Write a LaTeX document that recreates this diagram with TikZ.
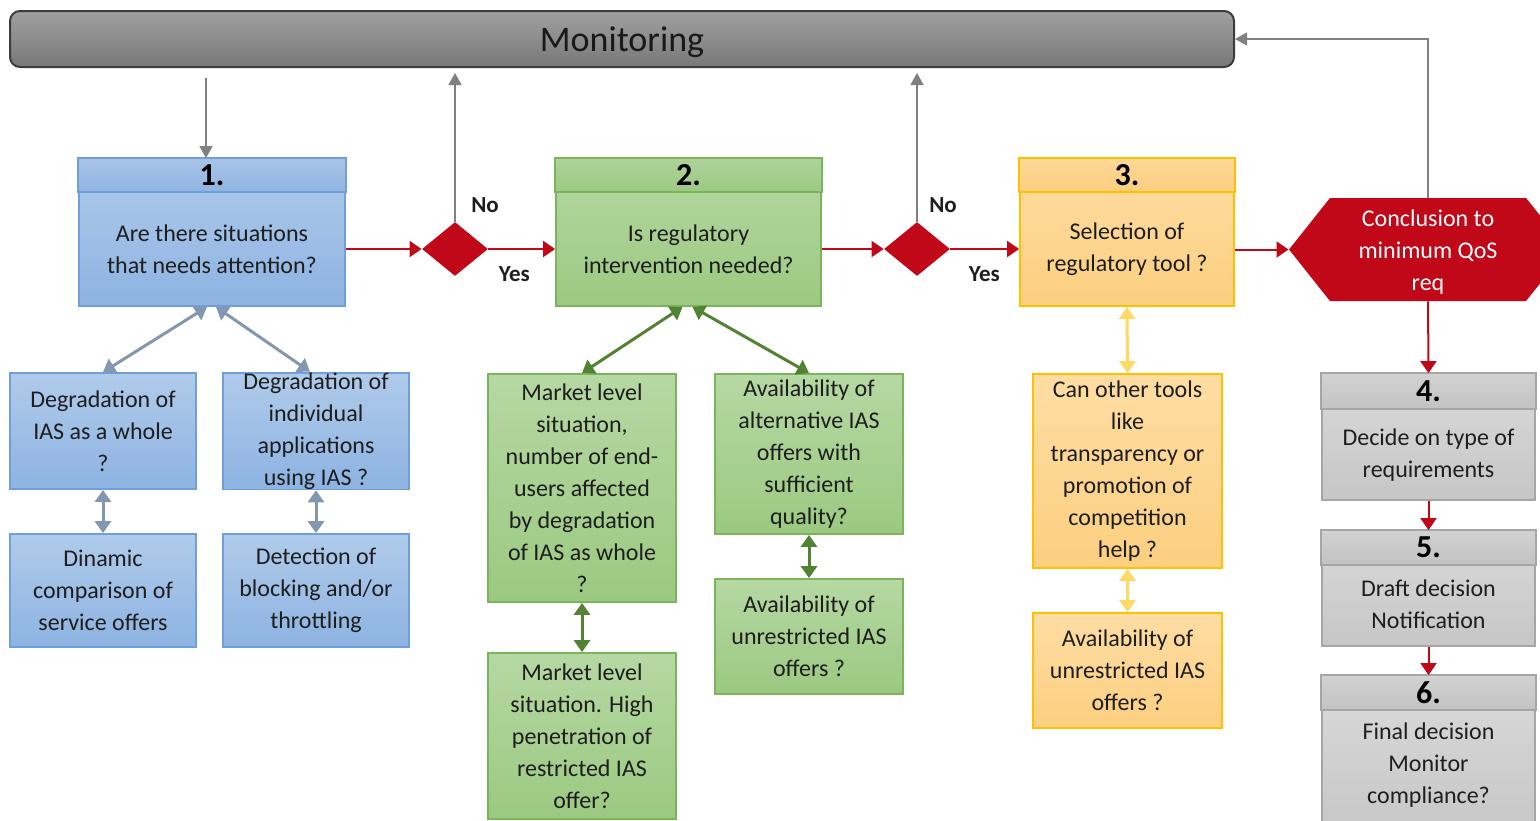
\documentclass[tikz,border=0pt]{standalone}
\usepackage{fontspec}
\setmainfont{Carlito}
\usetikzlibrary{arrows.meta,shapes.geometric,shapes.symbols,calc}
\definecolor{txtc}{HTML}{1E1E1E}
\definecolor{redc}{HTML}{C00818}
\definecolor{grayc}{HTML}{808080}
\definecolor{monT}{HTML}{A0A0A0}
\definecolor{monB}{HTML}{787878}
\definecolor{monD}{HTML}{3C3C3C}
\definecolor{blueD}{HTML}{6FA0DC}
\definecolor{blueT}{HTML}{B0CBEA}
\definecolor{blueBo}{HTML}{8DB3E2}
\definecolor{blueHT}{HTML}{A8C4E8}
\definecolor{blueHB}{HTML}{90B3E0}
\definecolor{blueA}{HTML}{8497B0}
\definecolor{greenD}{HTML}{7AB55C}
\definecolor{greenT}{HTML}{B6D8A3}
\definecolor{greenBo}{HTML}{9BC981}
\definecolor{greenHT}{HTML}{ADD39A}
\definecolor{greenHB}{HTML}{9CC983}
\definecolor{greenA}{HTML}{548235}
\definecolor{orD}{HTML}{FFC000}
\definecolor{orT}{HTML}{FEDDA3}
\definecolor{orBo}{HTML}{FCCF80}
\definecolor{orHT}{HTML}{FDD898}
\definecolor{orHB}{HTML}{FCCE80}
\definecolor{orA}{HTML}{FFD966}
\definecolor{grD}{HTML}{A6A6A6}
\definecolor{grT}{HTML}{DADADA}
\definecolor{grBo}{HTML}{C6C6C6}
\definecolor{grHT}{HTML}{D2D2D2}
\definecolor{grHB}{HTML}{C2C2C2}
\begin{document}
\begin{tikzpicture}[x=0.5pt,y=-0.5pt,
  boxbase/.style={rectangle, inner sep=0pt, line width=0.9pt, align=center, text=txtc, font=\fontsize{12}{16}\selectfont},
  bluebox/.style={boxbase, draw=blueD, top color=blueT, bottom color=blueBo},
  greenbox/.style={boxbase, draw=greenD, top color=greenT, bottom color=greenBo},
  orbox/.style={boxbase, draw=orD, top color=orT, bottom color=orBo},
  graybox/.style={boxbase, draw=grD, top color=grT, bottom color=grBo},
  bluehead/.style={draw=blueD, line width=0.9pt, top color=blueHT, bottom color=blueHB},
  greenhead/.style={draw=greenD, line width=0.9pt, top color=greenHT, bottom color=greenHB},
  orhead/.style={draw=orD, line width=0.9pt, top color=orHT, bottom color=orHB},
  grayhead/.style={draw=grD, line width=0.9pt, top color=grHT, bottom color=grHB},
  numtxt/.style={font=\fontsize{16}{18}\selectfont\bfseries, text=black, inner sep=0pt},
  body/.style={align=center, font=\fontsize{12}{16}\selectfont, text=txtc, inner sep=0pt},
  lbl/.style={font=\fontsize{11.5}{13}\selectfont\bfseries, text=txtc, inner sep=0pt},
  dia/.style={diamond, fill=redc, inner sep=0pt, minimum width=33pt, minimum height=27pt},
  hexa/.style={signal, signal to=west and east, signal pointer angle=103, fill=redc, inner sep=0pt,
     minimum width=139pt, minimum height=51.5pt},
  hextxt/.style={align=center, text=white, font=\fontsize{12}{16}\selectfont, inner sep=0pt},
  monbar/.style={rectangle, rounded corners=5pt, draw=monD, line width=1pt, top color=monT, bottom color=monB,
     minimum width=612pt, minimum height=28pt, inner sep=0pt},
  montxt/.style={font=\fontsize{18}{20}\selectfont, text=black!90, inner sep=0pt},
  redarr/.style={draw=redc, line width=1pt, -{Triangle[width=8pt,length=6pt]}},
  grayarr/.style={draw=grayc, line width=0.75pt, -{Triangle[width=6.5pt,length=6pt]}},
  dblarr/.style={line width=1.5pt, {Triangle[width=8pt,length=6pt]}-{Triangle[width=8pt,length=6pt]}},
  bluearr/.style={dblarr, draw=blueA},
  greenarr/.style={dblarr, draw=greenA},
  orarr/.style={dblarr, draw=orA}
]
\useasboundingbox (0,0) rectangle (1540,820);
\clip (0,0) rectangle (1540,820);

% Monitoring bar
\node[monbar] (mon) at (622,39) {};
\node[montxt] (monlbl) at ($(mon.center)+(0,3)$) {Monitoring};

% Main boxes
\node[bluebox, minimum width=133pt, minimum height=73.5pt] (box1) at (212,232.5) {};
\path[bluehead] (box1.north west) rectangle ($(box1.north east)+(0,34)$);
\node[numtxt] (n1) at ($(box1.north)+(0,17)$) {1.};
\node[body] (t1) at ($(box1.center)+(0,17)$) {Are there situations\\that needs attention?};

\node[greenbox, minimum width=132.5pt, minimum height=73.5pt] (box2) at (688.5,232.5) {};
\path[greenhead] (box2.north west) rectangle ($(box2.north east)+(0,34)$);
\node[numtxt] (n2) at ($(box2.north)+(0,17)$) {2.};
\node[body] (t2) at ($(box2.center)+(0,17)$) {Is regulatory\\intervention needed?};

\node[orbox, minimum width=107pt, minimum height=73.5pt] (box3) at (1127,232.5) {};
\path[orhead] (box3.north west) rectangle ($(box3.north east)+(0,34)$);
\node[numtxt] (n3) at ($(box3.north)+(0,17)$) {3.};
\node[body] (t3) at ($(box3.center)+(0,17)$) {Selection of\\regulatory tool ?};

\node[hexa] (hex) at (1428,249.5) {};
\node[hextxt] (hexlbl) at ($(hex.center)+(0,3)$) {Conclusion to\\minimum QoS\\req};

\node[graybox, minimum width=106.5pt, minimum height=63pt] (box4) at (1428.5,437) {};
\path[grayhead] (box4.north west) rectangle ($(box4.north east)+(0,36)$);
\node[numtxt] (n4) at ($(box4.north)+(0,18)$) {4.};
\node[body] (t4) at ($(box4.north)+(0,82)$) {Decide on type of\\requirements};

\node[graybox, minimum width=106.5pt, minimum height=57.5pt] (box5) at (1428.5,588.5) {};
\path[grayhead] (box5.north west) rectangle ($(box5.north east)+(0,35)$);
\node[numtxt] (n5) at ($(box5.north)+(0,17.5)$) {5.};
\node[body] (t5) at ($(box5.north)+(0,74)$) {Draft decision\\Notification};

\node[graybox, minimum width=106.5pt, minimum height=82pt] (box6) at (1428.5,758) {};
\path[grayhead] (box6.north west) rectangle ($(box6.north east)+(0,35)$);
\node[numtxt] (n6) at ($(box6.north)+(0,17.5)$) {6.};
\node[body] (t6) at ($(box6.north)+(0,90)$) {Final decision\\Monitor\\compliance?};

% Diamonds
\node[dia] (d1) at (455,249) {};
\node[dia] (d2) at (917,249) {};

% Sub boxes, blue
\node[bluebox, minimum width=93pt, minimum height=58pt] (b1a) at (103,431) {Degradation of\\IAS as a whole\\?};
\node[bluebox, minimum width=93pt, minimum height=58pt] (b1b) at (316,431) {Degradation of\\individual\\applications\\using IAS ?};
\node[bluebox, minimum width=93pt, minimum height=56.5pt] (b1c) at (103,590.5) {Dinamic\\comparison of\\service offers};
\node[bluebox, minimum width=93pt, minimum height=56.5pt] (b1d) at (316,590.5) {Detection of\\blocking and/or\\throttling};

% Sub boxes, green
\node[greenbox, minimum width=94pt, minimum height=114pt] (g2a) at (582,488) {Market level\\situation,\\number of end-\\users affected\\by degradation\\of IAS as whole\\?};
\node[greenbox, minimum width=94pt, minimum height=80pt] (g2b) at (809,454) {Availability of\\alternative IAS\\offers with\\sufficient\\quality?};
\node[greenbox, minimum width=94pt, minimum height=83pt] (g2c) at (582,736) {Market level\\situation. High\\penetration of\\restricted IAS\\offer?};
\node[greenbox, minimum width=94pt, minimum height=57.5pt] (g2d) at (809,636.5) {Availability of\\unrestricted IAS\\offers ?};

% Sub boxes, orange
\node[orbox, minimum width=94.5pt, minimum height=97pt] (o3a) at (1127.5,471) {Can other tools\\like\\transparency or\\promotion of\\competition\\help ?};
\node[orbox, minimum width=94.5pt, minimum height=57.5pt] (o3b) at (1127.5,670.5) {Availability of\\unrestricted IAS\\offers ?};

% Red flow
\draw[redarr] (d1.west -| box1.east) -- (d1.west);
\draw[redarr] (d1.east) -- (d1.east -| box2.west);
\draw[redarr] (d2.west -| box2.east) -- (d2.west);
\draw[redarr] (d2.east) -- (d2.east -| box3.west);
\draw[redarr] (hex.west -| box3.east) -- (hex.west);
\draw[redarr] (hex.south) -- (box4.north);
\draw[redarr] (box4.south) -- (box5.north);
\draw[redarr] (box5.south) -- (box6.north);

% Labels
\node[lbl] (yes1) at ($(d1.east)+(26,25)$) {Yes};
\node[lbl] (no1) at ($(d1.north)+(30,-16)$) {No};
\node[lbl] (yes2) at ($(d2.east)+(34,25)$) {Yes};
\node[lbl] (no2) at ($(d2.north)+(26,-16)$) {No};

% Gray monitoring arrows
\coordinate (mout) at ($(mon.south west)+(197,10)$);
\draw[grayarr] (mout) -- (mout |- box1.north);
\draw[grayarr] (d1.north) -- ($(d1.north |- mon.south)+(0,5)$);
\draw[grayarr] (d2.north) -- ($(d2.north |- mon.south)+(0,5)$);
\draw[grayarr] (hex.north) |- (mon.east);

% Double arrows blue
\draw[bluearr] ([xshift=-2.5pt]box1.south) -- (b1a.north);
\draw[bluearr] ([xshift=2pt]box1.south) -- ([xshift=-3pt]b1b.north);
\draw[bluearr] (b1a.south) -- (b1c.north);
\draw[bluearr] (b1b.south) -- (b1d.north);

% Double arrows green
\draw[greenarr] ([xshift=-3pt]box2.south) -- (g2a.north);
\draw[greenarr] ([xshift=2pt]box2.south) -- (g2b.north);
\draw[greenarr] (g2a.south) -- (g2c.north);
\draw[greenarr] (g2b.south) -- (g2d.north);

% Double arrows orange
\draw[orarr] (box3.south) -- (o3a.north);
\draw[orarr] (o3a.south) -- (o3b.north);
\end{tikzpicture}
\end{document}
